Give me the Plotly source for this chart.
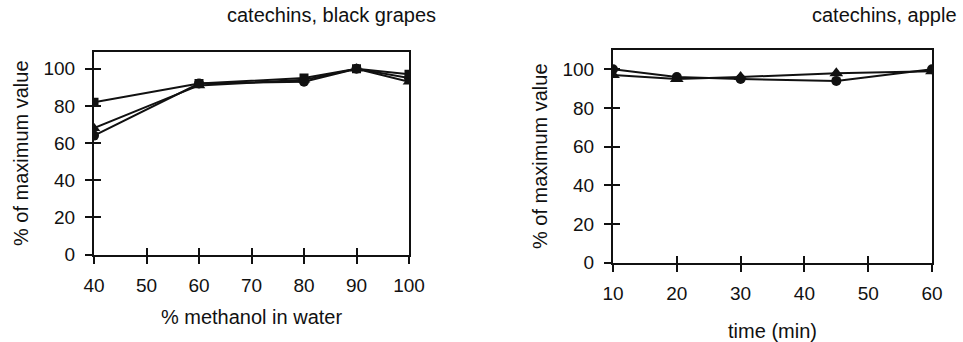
import plotly.graph_objects as go

# ---- data: left panel (catechins, black grapes) ----
methanol_pct = [40, 60, 80, 90, 100]
grapes_square = [82, 92, 95, 100, 97]
grapes_triangle = [68, 91, 94, 100, 93]
grapes_circle = [64, 92, 93, 100, 95]

# ---- data: right panel (catechins, apple) ----
time_min = [10, 20, 30, 45, 60]
apple_circle = [100, 96, 95, 94, 100]
apple_triangle = [97, 95, 96, 98, 99]

left_xticks = [40, 50, 60, 70, 80, 90, 100]
right_xticks = [10, 20, 30, 40, 50, 60]
yticks = [0, 20, 40, 60, 80, 100]

FONT = "Liberation Sans, Arial, sans-serif"
BLACK = "#111111"

fig = go.Figure()


def add(x, y, symbol, size, xa, ya):
    fig.add_trace(go.Scatter(
        x=x, y=y, mode="lines+markers", xaxis=xa, yaxis=ya,
        line=dict(color=BLACK, width=2),
        marker=dict(symbol=symbol, size=size, color=BLACK),
        showlegend=False, hoverinfo="x+y"))


add(methanol_pct, grapes_circle, "circle", 10, "x", "y")
add(methanol_pct, grapes_triangle, "triangle-up", 11, "x", "y")
add(methanol_pct, grapes_square, "square", 9, "x", "y")
add(time_min, apple_circle, "circle", 10, "x2", "y2")
add(time_min, apple_triangle, "triangle-up", 12, "x2", "y2")

# empty traces so the inner-tick overlay axes get drawn
for xa, ya in (("x3", "y3"), ("x4", "y4")):
    fig.add_trace(go.Scatter(x=[], y=[], xaxis=xa, yaxis=ya, showlegend=False,
                             hoverinfo="skip"))

tickfont = dict(family=FONT, size=19, color=BLACK)
titlefont = dict(family=FONT, size=20, color=BLACK)

common = dict(showgrid=False, zeroline=False, showline=True, linecolor=BLACK,
              linewidth=2, mirror=True, ticks="outside", ticklen=7, tickwidth=2,
              tickcolor=BLACK, tickfont=tickfont, automargin=False)
overlay = dict(showgrid=False, zeroline=False, showline=False, ticks="inside",
               ticklen=7, tickwidth=2, tickcolor=BLACK, showticklabels=False,
               automargin=False)

LX = [94 / 963, 409 / 963]
LY = [1 - 254.5 / 342, 1 - 52 / 342]
RX = [613 / 963, 932 / 963]
RY = [1 - 262.5 / 342, 1 - 50 / 342]

fig.update_layout(
    width=963, height=342,
    margin=dict(l=0, r=0, t=0, b=0),
    paper_bgcolor="white", plot_bgcolor="white",
    font=dict(family=FONT, color=BLACK),
    xaxis=dict(common, domain=LX, range=[40, 100], tickvals=left_xticks,
               anchor="y", ticklabelstandoff=6,
               title=dict(text="% methanol in water", font=titlefont, standoff=15)),
    yaxis=dict(common, domain=LY, range=[0, 109], tickvals=yticks, anchor="x",
               ticklabelstandoff=6,
               title=dict(text="% of maximum value", font=titlefont, standoff=9)),
    xaxis2=dict(common, domain=RX, range=[10, 60], tickvals=right_xticks,
                anchor="y2", ticklabelstandoff=6,
                title=dict(text="time (min)", font=titlefont, standoff=28)),
    yaxis2=dict(common, domain=RY, range=[0, 110], tickvals=yticks, anchor="x2",
                ticklabelstandoff=6,
                title=dict(text="% of maximum value", font=titlefont, standoff=9)),
    xaxis3=dict(overlay, overlaying="x", anchor="y3", range=[40, 100],
                tickvals=left_xticks, domain=LX),
    yaxis3=dict(overlay, overlaying="y", anchor="x3", range=[0, 109],
                tickvals=yticks, domain=LY),
    xaxis4=dict(overlay, overlaying="x2", anchor="y4", range=[10, 60],
                tickvals=right_xticks, domain=RX),
    yaxis4=dict(overlay, overlaying="y2", anchor="x4", range=[0, 110],
                tickvals=yticks, domain=RY),
    annotations=[
        dict(text="catechins, black grapes", x=331 / 963, y=1 - 15 / 342,
             xref="paper", yref="paper", xanchor="center", yanchor="middle",
             showarrow=False, font=dict(family=FONT, size=20, color=BLACK)),
        dict(text="catechins, apple", x=884 / 963, y=1 - 15 / 342,
             xref="paper", yref="paper", xanchor="center", yanchor="middle",
             showarrow=False, font=dict(family=FONT, size=20, color=BLACK)),
    ],
)

fig.write_html("out.html")
